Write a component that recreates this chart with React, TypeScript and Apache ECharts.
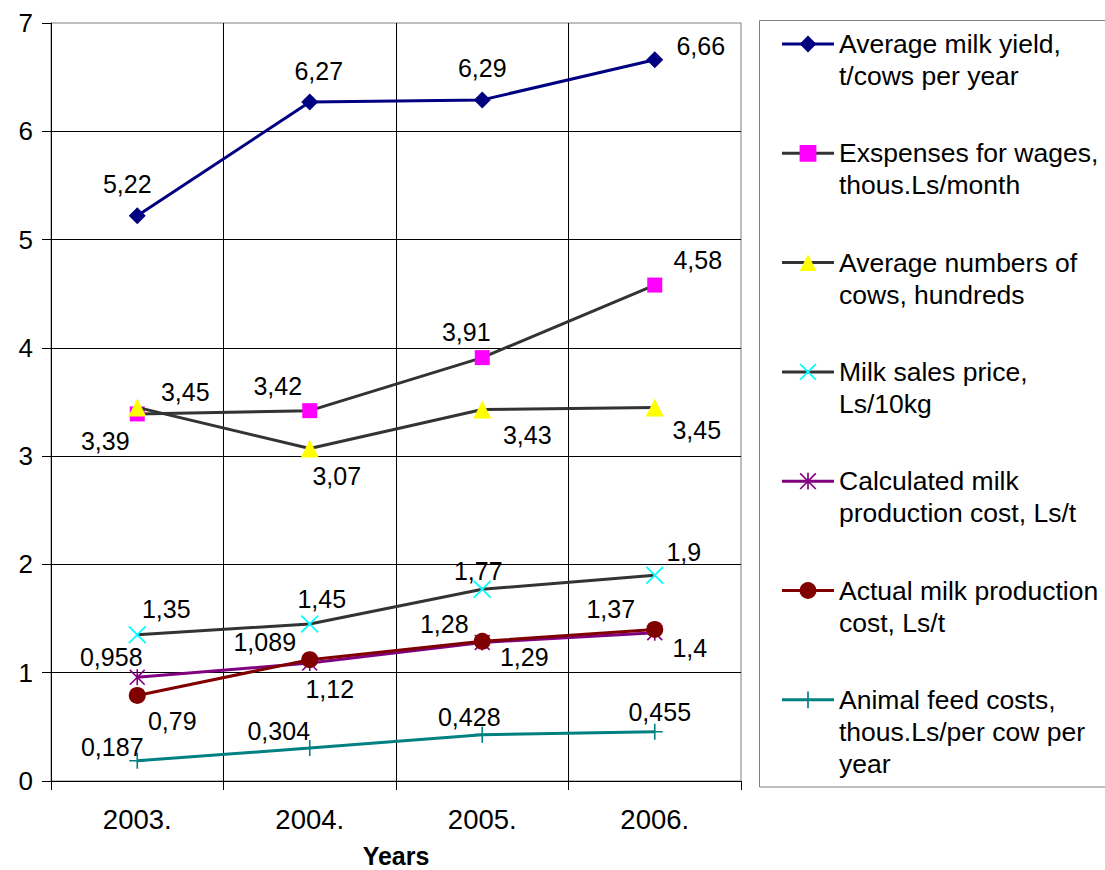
import React, { useEffect, useRef } from 'react';
import * as echarts from 'echarts';

const FONT = 'Liberation Sans, Arial, sans-serif';

const years = ['2003.', '2004.', '2005.', '2006.'];
const yMin = 0;
const yMax = 7;
const yStep = 1;

const seriesNames = [
  'Average milk yield, t/cows per year',
  'Exspenses for wages, thous.Ls/month',
  'Average numbers of cows, hundreds',
  'Milk sales price, Ls/10kg',
  'Calculated milk production cost, Ls/t',
  'Actual milk production cost, Ls/t',
  'Animal feed costs, thous.Ls/per cow per year',
];
const legendLines = [
  ['Average milk yield,', 't/cows per year'],
  ['Exspenses for wages,', 'thous.Ls/month'],
  ['Average numbers of', 'cows, hundreds'],
  ['Milk sales price,', 'Ls/10kg'],
  ['Calculated milk', 'production cost, Ls/t'],
  ['Actual milk production', 'cost, Ls/t'],
  ['Animal feed costs,', 'thous.Ls/per cow per', 'year'],
];

const milkYield = [5.22, 6.27, 6.29, 6.66];
const wages = [3.39, 3.42, 3.91, 4.58];
const cows = [3.45, 3.07, 3.43, 3.45];
const salesPrice = [1.35, 1.45, 1.77, 1.9];
const calcCost = [0.958, 1.089, 1.28, 1.37];
const actualCost = [0.79, 1.12, 1.29, 1.4];
const feedCosts = [0.187, 0.304, 0.428, 0.455];

// label offsets (px) from each marker centre
const labelOffsets = [
  [[-10, -32], [9, -31], [0, -32], [46, -14]],
  [[-32, 27], [-32, -25], [-16, -26], [43, -25]],
  [[48, -15], [27, 27], [45, 25], [42, 23]],
  [[29, -26], [12, -25], [-4, -18], [29, -23]],
  [[-26, -20], [-45, -21], [-38, -18], [-44, -24]],
  [[35, 26], [20, 29], [42, 16], [35, 19]],
  [[-25, -14], [-31, -17], [-13, -18], [5, -20]],
];

const X_PATH = 'path://M0,1.4L1.4,0L20,18.6L18.6,20ZM1.4,20L0,18.6L18.6,0L20,1.4Z';
const STAR_PATH = 'path://M0,1.4L1.4,0L20,18.6L18.6,20ZM1.4,20L0,18.6L18.6,0L20,1.4ZM9,0L11,0L11,20L9,20Z';
const PLUS_PATH = 'path://M9,0L11,0L11,20L9,20ZM0,9L20,9L20,11L0,11Z';

const allValues = [milkYield, wages, cows, salesPrice, calcCost, actualCost, feedCosts];
const symbols = ['diamond', 'rect', 'triangle', X_PATH, STAR_PATH, 'circle', PLUS_PATH];
const symbolSizes = [17, 15, 18, 18, 16, 17, 16];
const lineColors = ['#000080', '#333333', '#333333', '#333333', '#800080', '#800000', '#008080'];
const markColors = ['#000080', '#FF00FF', '#FFFF00', '#00FFFF', '#800080', '#800000', '#008080'];

const LEGEND_FIRST_Y = 44;
const LEGEND_STEP = 109.3;
const LEGEND_LH = 32;

const fmt = (v: number) => String(v).replace('.', ',');

export default function App() {
  const ref = useRef<HTMLDivElement>(null);
  useEffect(() => {
    if (!ref.current) return;
    const chart = echarts.init(ref.current, null, { renderer: 'svg' });
    const series = allValues.map((vals, si) => ({
      name: seriesNames[si],
      type: 'line',
      symbol: symbols[si],
      symbolSize: symbolSizes[si],
      showAllSymbol: true,
      lineStyle: { color: lineColors[si], width: 3 },
      itemStyle: { color: markColors[si], borderWidth: 0 },
      emphasis: { disabled: true },
      label: {
        show: true,
        position: 'inside',
        color: '#000',
        fontSize: 25,
        fontFamily: FONT,
        formatter: (p: any) => fmt(p.value),
      },
      data: vals.map((v, i) => ({ value: v, label: { offset: labelOffsets[si][i] } })),
      z: 2 + si,
    }));
    // one legend per series: leading blank lines keep the marker level with the first text line
    const legends = seriesNames.map((name, i) => {
      const n = legendLines[i].length;
      const blockLines = 2 * n - 1;
      const centre = LEGEND_FIRST_Y + i * LEGEND_STEP;
      return {
        orient: 'vertical',
        left: 780.5,
        top: centre - (blockLines * LEGEND_LH) / 2,
        padding: 0,
        itemWidth: 52,
        itemHeight: 21,
        selectedMode: false,
        lineStyle: { width: 3 },
        formatter: () => '\n'.repeat(n - 1) + legendLines[i].join('\n'),
        textStyle: {
          fontSize: 26.5,
          lineHeight: LEGEND_LH,
          color: '#000',
          fontFamily: FONT,
        },
        data: [name],
      };
    });
    chart.setOption({
      animation: false,
      backgroundColor: '#fff',
      textStyle: { fontFamily: FONT },
      grid: {
        left: 51,
        right: 364,
        top: 23,
        bottom: 89,
        show: true,
        borderColor: '#808080',
        borderWidth: 1,
        backgroundColor: 'transparent',
        containLabel: false,
        outerBoundsMode: 'none',
      },
      xAxis: {
        type: 'category',
        data: years,
        boundaryGap: true,
        name: 'Years',
        nameLocation: 'middle',
        nameGap: 62,
        nameTextStyle: { fontSize: 25, fontWeight: 'bold', color: '#000', fontFamily: FONT, lineHeight: 25 },
        axisLine: { show: true, lineStyle: { color: '#000', width: 1 } },
        axisTick: { show: true, length: 9, lineStyle: { color: '#000' } },
        axisLabel: { fontSize: 27.5, color: '#000', margin: 24, fontFamily: FONT },
        splitLine: { show: true, showMaxLine: false, lineStyle: { color: '#000', width: 1 } },
      },
      yAxis: {
        type: 'value',
        min: yMin,
        max: yMax,
        interval: yStep,
        axisLine: { show: true, lineStyle: { color: '#000', width: 1 } },
        axisTick: { show: true, length: 9, lineStyle: { color: '#000' } },
        axisLabel: { fontSize: 26, color: '#000', margin: 18, fontFamily: FONT },
        splitLine: { show: true, showMaxLine: false, lineStyle: { color: '#000', width: 1 } },
      },
      legend: legends,
      graphic: [
        {
          type: 'rect',
          shape: { x: 759.5, y: 20.5, width: 400, height: 766.5 },
          style: { fill: 'none', stroke: '#808080', lineWidth: 1 },
          silent: true,
        },
      ],
      series,
    });
    return () => chart.dispose();
  }, []);
  return (
    <div
      ref={ref}
      style={{ position: 'absolute', left: 0, top: 0, width: 1105, height: 870, background: '#fff' }}
    />
  );
}
